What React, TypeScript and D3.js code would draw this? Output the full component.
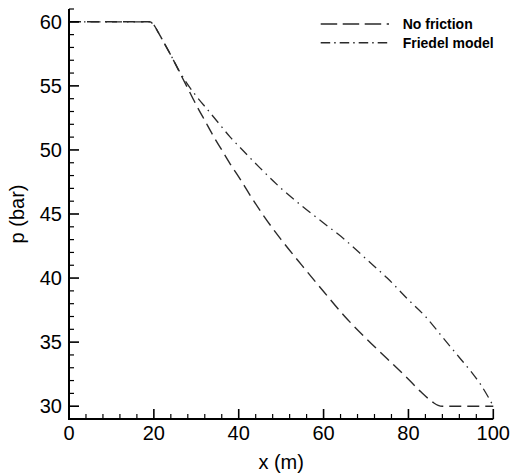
import React from "react";
import * as d3 from "d3";

// Pressure profiles along the pipe: x in metres, p in bar
const noFrictionX = [0, 10, 19, 20, 21, 22, 24, 26, 28, 30, 32, 34, 36, 38, 40, 43, 46, 50, 55, 60, 65, 70, 75, 80, 83, 85, 86, 87, 88, 100];
const noFrictionP = [60, 60, 60, 59.75, 59.2, 58.6, 57.4, 56.1, 54.8, 53.5, 52.3, 51.1, 50.0, 48.9, 47.9, 46.3, 44.8, 43.0, 40.95, 38.95, 37.0, 35.3, 33.7, 32.1, 31.1, 30.5, 30.25, 30.07, 30, 30];

const friedelX = [0, 10, 19, 20, 21, 22, 24, 26, 28, 30, 32.5, 35, 38, 40, 45, 50, 55, 60, 65, 70, 75, 80, 84, 88, 92, 95, 97, 99, 100];
const friedelP = [60, 60, 60, 59.75, 59.2, 58.6, 57.4, 56.15, 55.1, 54.2, 53.2, 52.2, 51.0, 50.3, 48.6, 47.0, 45.6, 44.3, 43.0, 41.5, 40.0, 38.3, 37.0, 35.4, 33.8, 32.6, 31.7, 30.6, 30];

const xMajorTicks = [0, 20, 40, 60, 80, 100];
const yMajorTicks = [30, 35, 40, 45, 50, 55, 60];
const seriesNames = ["No friction", "Friedel model"];

const W = 518;
const H = 476;
const FONT = "Arial, 'Liberation Sans', Helvetica, sans-serif";

export default function App() {
  const x = d3.scaleLinear().domain([0, 100]).range([69, 493.3]);
  const y = d3.scaleLinear().domain([29, 61]).range([419, 9]);

  const line = d3
    .line<[number, number]>()
    .x((d) => x(d[0]))
    .y((d) => y(d[1]))
    .curve(d3.curveMonotoneX);

  const nf: [number, number][] = noFrictionX.map((v, i) => [v, noFrictionP[i]]);
  const fr: [number, number][] = friedelX.map((v, i) => [v, friedelP[i]]);

  const xMinor = d3.range(0, 101, 4).filter((v) => !xMajorTicks.includes(v));
  const yMinor = d3.range(29, 62, 1).filter((v) => !yMajorTicks.includes(v));

  const dashStyle = "12,6";
  const dashDotStyle = "10,5,1.5,5";
  const curveColor = "#2a2a2a";

  const [x0, x1] = x.range();
  const [yb, yt] = y.range();

  return (
    <div style={{ position: "absolute", left: 0, top: 0 }}>
      <svg width={W} height={H} style={{ display: "block", background: "#fff" }}>
        {/* curves */}
        <path d={line(nf) ?? ""} fill="none" stroke={curveColor} strokeWidth={1.4} strokeDasharray={dashStyle} />
        <path d={line(fr) ?? ""} fill="none" stroke={curveColor} strokeWidth={1.3} strokeDasharray={dashDotStyle} />

        {/* axes */}
        <line x1={x0} x2={x0} y1={yt} y2={yb + 1} stroke="#000" strokeWidth={2} />
        <line x1={x0 - 1} x2={x1} y1={yb} y2={yb} stroke="#000" strokeWidth={2} />

        {xMajorTicks.map((t) => (
          <g key={"xM" + t}>
            <line x1={x(t)} x2={x(t)} y1={yb} y2={yb - 10} stroke="#000" strokeWidth={1.6} />
            <text x={x(t)} y={440} textAnchor="middle" fontFamily={FONT} fontSize={20} fill="#000">
              {t}
            </text>
          </g>
        ))}
        {xMinor.map((t) => (
          <line key={"xm" + t} x1={x(t)} x2={x(t)} y1={yb} y2={yb - 5} stroke="#000" strokeWidth={1.2} />
        ))}

        {yMajorTicks.map((t) => (
          <g key={"yM" + t}>
            <line x1={x0} x2={x0 + 10} y1={y(t)} y2={y(t)} stroke="#000" strokeWidth={1.6} />
            <text x={62} y={y(t) + 7.2} textAnchor="end" fontFamily={FONT} fontSize={20} fill="#000">
              {t}
            </text>
          </g>
        ))}
        {yMinor.map((t) => (
          <line key={"ym" + t} x1={x0} x2={x0 + 5} y1={y(t)} y2={y(t)} stroke="#000" strokeWidth={1.2} />
        ))}

        {/* axis titles */}
        <text x={(x0 + x1) / 2} y={469} textAnchor="middle" fontFamily={FONT} fontSize={20} fill="#000">
          x (m)
        </text>
        <text
          transform={`translate(24, ${(yt + yb) / 2}) rotate(-90)`}
          textAnchor="middle"
          fontFamily={FONT}
          fontSize={20}
          fill="#000"
        >
          p (bar)
        </text>

        {/* legend */}
        {seriesNames.map((name, i) => {
          const ly = 24 + i * 18.7;
          return (
            <g key={name}>
              <line
                x1={320.7}
                x2={389}
                y1={ly}
                y2={ly}
                stroke={curveColor}
                strokeWidth={1.4}
                strokeDasharray={i === 0 ? "16.5,5.5" : "9.5,4,1.5,4"}
              />
              <text x={402.7} y={ly + 4.9} fontFamily={FONT} fontSize={14} fontWeight="bold" fill="#000">
                {name}
              </text>
            </g>
          );
        })}
      </svg>
    </div>
  );
}
